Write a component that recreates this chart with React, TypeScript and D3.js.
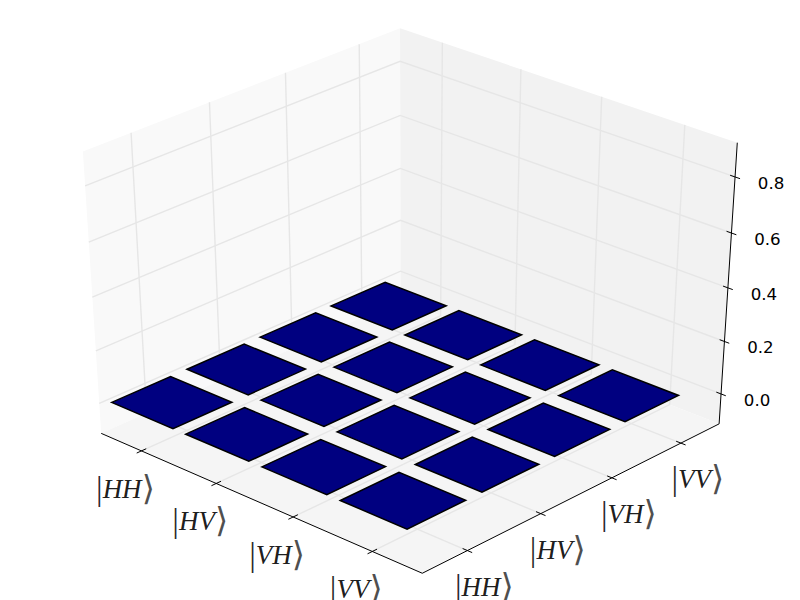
import React from 'react'
import * as d3 from 'd3'

const width = 800
const height = 600

// ket labels and tick values
const xLabels = ['HH', 'HV', 'VH', 'VV']
const yLabels = ['HH', 'HV', 'VH', 'VV']
const zTicks = [0, 0.2, 0.4, 0.6, 0.8]

// bar heights, row = x index, col = y index
const barValues = [
  [-0.012, -0.012, -0.012, -0.012],
  [-0.012, -0.012, -0.012, -0.012],
  [-0.012, -0.012, -0.012, -0.012],
  [-0.012, -0.012, -0.012, -0.012],
]

const barOffsetX = -0.53
const barOffsetY = -0.46
const barWidthX = 0.83
const barWidthY = 0.78

// camera, same maths as mplot3d
const elev = (33.5 * Math.PI) / 180
const azim = (-47 * Math.PI) / 180
const dist = 10
const boxSize = 1.04

const u = [-Math.sin(azim), Math.cos(azim), 0]
const v = [-Math.sin(elev) * Math.cos(azim), -Math.sin(elev) * Math.sin(azim), Math.cos(elev)]
const n = [Math.cos(elev) * Math.cos(azim), Math.cos(elev) * Math.sin(azim), Math.sin(elev)]
const dot = (a: number[], b: number[]) => a[0] * b[0] + a[1] * b[1] + a[2] * b[2]

// data scales into the unit box
const xScale = d3.scaleLinear().domain([-0.55, 3.617]).range([0, 1])
const yScale = d3.scaleLinear().domain([-0.6, 3.567]).range([0, 1])
const zScale = d3.scaleLinear().domain([-0.116, 0.92]).range([0, 1])

// view plane to pixels
const screenX = d3.scaleLinear().domain([-0.95 / dist, 0.9 / dist]).range([0, width])
const screenY = d3.scaleLinear().domain([-0.95 / dist, 0.9 / dist]).range([height, 0])

type Pt = [number, number]

// project a point given in box coordinates (0..1)
const project = (tx: number, ty: number, tz: number): Pt => {
  const p = [(tx - 0.5) * boxSize, (ty - 0.5) * boxSize, (tz - 0.5) * boxSize]
  const w = dist - dot(n, p)
  return [screenX(dot(u, p) / w), screenY(dot(v, p) / w)]
}

const line = d3.line<Pt>()
const poly = (pts: Pt[]) => line(pts) + 'Z'

const Ket = ({ x, y, label }: { x: number; y: number; label: string }) => (
  <text x={x} y={y} textAnchor="middle" fill="#000">
    <tspan fontFamily="'Liberation Serif'" fontSize={33} dy={2} fillOpacity={0.85}>|</tspan>
    <tspan fontFamily="'Liberation Serif'" fontStyle="italic" fontSize={27} dy={-2} fillOpacity={0.9}>{label}</tspan>
    <tspan fontFamily="'DejaVu Sans'" fontSize={34} dy={2} fillOpacity={0.7}>⟩</tspan>
  </text>
)

export default function App() {
  const gridColor = '#e6e6e6'
  const xT = xLabels.map((_, i) => xScale(i))
  const yT = yLabels.map((_, i) => yScale(i))
  const zT = zTicks.map(d => zScale(d))

  return (
    <svg width={width} height={height} style={{ position: 'absolute', left: 0, top: 0, background: '#fff' }}>
      {/* panes */}
      <path d={poly([project(0, 0, 0), project(0, 1, 0), project(0, 1, 1), project(0, 0, 1)])} fill="#f9f9f9" />
      <path d={poly([project(0, 1, 0), project(1, 1, 0), project(1, 1, 1), project(0, 1, 1)])} fill="#f2f2f2" />
      <path d={poly([project(0, 0, 0), project(1, 0, 0), project(1, 1, 0), project(0, 1, 0)])} fill="#f5f5f5" />

      {/* grid */}
      <g fill="none" stroke={gridColor} strokeWidth={1.4}>
        {xT.map((t, i) => (
          <path key={`gx${i}`} d={line([project(t, 0, 0), project(t, 1, 0), project(t, 1, 1)]) as string} />
        ))}
        {yT.map((t, i) => (
          <path key={`gy${i}`} d={line([project(1, t, 0), project(0, t, 0), project(0, t, 1)]) as string} />
        ))}
        {zT.map((t, i) => (
          <path key={`gz${i}`} d={line([project(0, 0, t), project(0, 1, t), project(1, 1, t)]) as string} />
        ))}
      </g>

      {/* bars */}
      <g fill="#000080" stroke="#000" strokeWidth={1.5} strokeLinejoin="miter">
        {barValues.flatMap((row, i) =>
          row.map((val, j) => {
            const x0 = xScale(i + barOffsetX)
            const x1 = xScale(i + barOffsetX + barWidthX)
            const y0 = yScale(j + barOffsetY)
            const y1 = yScale(j + barOffsetY + barWidthY)
            const z = zScale(val)
            return <path key={`b${i}-${j}`} d={poly([project(x0, y0, z), project(x1, y0, z), project(x1, y1, z), project(x0, y1, z)])} />
          })
        )}
      </g>

      {/* axes */}
      <g fill="none" stroke="#000" strokeWidth={1}>
        <path d={line([project(0, 0, 0), project(1, 0, 0), project(1, 1, 0), project(1, 1, 1)]) as string} />
        {xT.map((t, i) => (
          <path key={`tx${i}`} d={line([project(t, -0.015, 0), project(t, 0.015, 0)]) as string} />
        ))}
        {yT.map((t, i) => (
          <path key={`ty${i}`} d={line([project(1 - 0.014, t, 0), project(1 + 0.014, t, 0)]) as string} />
        ))}
        {zT.map((t, i) => (
          <path key={`tz${i}`} d={line([project(1 - 0.014, 1, t), project(1 + 0.014, 1, t)]) as string} />
        ))}
      </g>

      {/* tick labels, the opacity keeps the glyphs grey-antialiased */}
      <g style={{ opacity: 0.999 }}>
        {xT.map((t, i) => {
          const [px, py] = project(t, 0, 0)
          return <Ket key={`lx${i}`} x={px - 16} y={py + 47} label={xLabels[i]} />
        })}
        {yT.map((t, i) => {
          const [px, py] = project(1, t, 0)
          return <Ket key={`ly${i}`} x={px + 17} y={py + 45} label={yLabels[i]} />
        })}
        {zT.map((t, i) => {
          const [px, py] = project(1, 1, t)
          return (
            <text key={`lz${i}`} x={px + 36} y={py + 12} textAnchor="middle" fontFamily="'DejaVu Sans'" fontSize={16.67} fill="#000">
              {zTicks[i].toFixed(1)}
            </text>
          )
        })}
      </g>
    </svg>
  )
}
